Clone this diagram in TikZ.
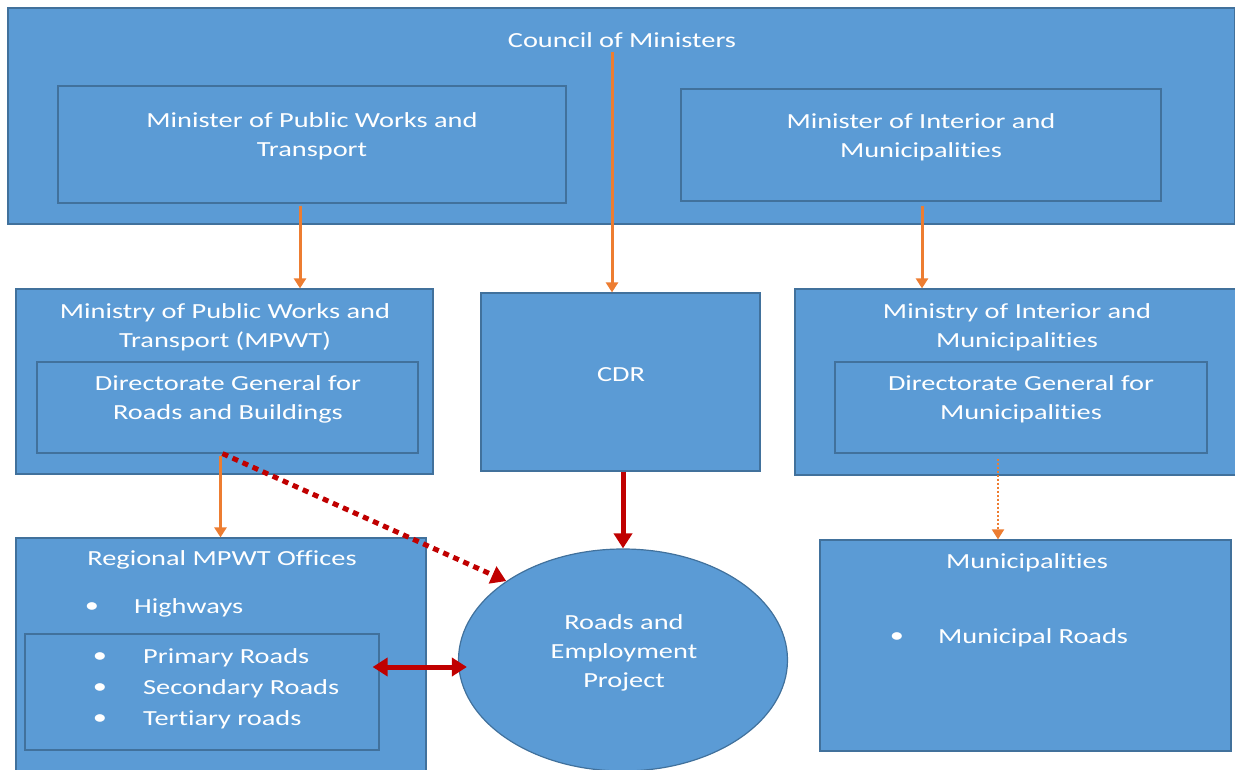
\documentclass[tikz,border=0pt]{standalone}
\usepackage{fontspec}
\setmainfont[FakeStretch=1.32,Ligatures={NoCommon}]{Carlito}
\usetikzlibrary{positioning,shapes.geometric,arrows.meta}
\definecolor{boxBlue}{HTML}{5B9BD5}
\definecolor{boxLine}{HTML}{41719C}
\definecolor{arrowOrange}{HTML}{ED7D31}
\definecolor{arrowRed}{HTML}{C00000}

\begin{document}
\begin{tikzpicture}
[x=1pt,y=-1pt,
  boxDecorate/.style={shape=rectangle,draw=boxLine,fill=boxBlue,line width=1.2pt,inner sep=0pt},
  textDecorate/.style={text=white,align=center,inner sep=0pt,font=\fontsize{21.5}{29}\selectfont},
  orangeDecorate/.style={draw=arrowOrange,line width=3pt,-{Triangle[width=12pt,length=10pt]}},
  redDecorate/.style={draw=arrowRed,line width=5pt,-{Triangle[width=18pt,length=15pt]}}]
\useasboundingbox (0,0) rectangle (1235,770);
\clip (0,0) rectangle (1235,770);
%% boxes
\foreach \nodename/\x/\y/\w/\h in {
  council/621.5/116/1227/216,
  minPWT/312/144.5/508/117,
  minInt/921/145/480/112,
  mPWT/224.5/381.5/417/185,
  cdr/620.5/382/279/178,
  mInt/1017/382/444/186,
  dgRoads/227.5/407.5/381/91,
  dgMun/1021/407.5/372/91,
  regional/221/659/410/242,
  roadsIn/202/692/354/116,
  municip/1025.5/645.5/411/211}
{
  \node (\nodename) at (\x,\y) [boxDecorate,minimum width=\w,minimum height=\h] {};
}
\node (project) at (623,660) [boxDecorate,shape=ellipse,minimum width=329,minimum height=222] {};
%% texts
\foreach \nodename/\x/\y/\txt in {
  councilText/622/40/{Council of Ministers},
  minPWTText/312/136/{Minister of Public Works and\\Transport},
  minIntText/921/137/{Minister of Interior and\\Municipalities},
  mPWTText/225/327/{Ministry of Public Works and\\Transport (MPWT)},
  dgRoadsText/228/399/{Directorate General for\\Roads and Buildings},
  cdrText/621/375/{CDR},
  mIntText/1017/327/{Ministry of Interior and\\Municipalities},
  dgMunText/1021/399/{Directorate General for\\Municipalities},
  regionalText/222/560/{Regional MPWT Offices},
  projectText/624/653/{Roads and\\Employment\\Project},
  municipText/1027/563/{Municipalities}}
{
  \node (\nodename) at (\x,\y) [textDecorate] {\txt};
}
%% bullet lists
\foreach \nodename/\bx/\tx/\y/\txt in {
  highways/92/134/608/Highways,
  primary/100/143/658/Primary Roads,
  secondary/100/143/689/Secondary Roads,
  tertiary/100/143/720/Tertiary roads,
  municipal/897/938/638/Municipal Roads}
{
  \node (\nodename Dot) at (\bx,\y) [textDecorate] {\textbullet};
  \node (\nodename) at (\tx,\y) [textDecorate,anchor=west] {\txt};
}
%% connectors
\coordinate (councilStart) at (612,52);
\draw[orangeDecorate] (councilStart) -- (councilStart |- cdr.north);
\draw[orangeDecorate] ([xshift=-12pt,yshift=-2pt]minPWT.south) -- ([xshift=-12pt]minPWT.south |- mPWT.north);
\draw[orangeDecorate] ([xshift=1pt,yshift=-4pt]minInt.south) -- ([xshift=1pt]minInt.south |- mInt.north);
\draw[orangeDecorate] ([xshift=-7pt,yshift=-2pt]dgRoads.south) -- ([xshift=-7pt]dgRoads.south |- regional.north);
\draw[orangeDecorate,line width=2pt,dash pattern=on 2pt off 2pt] ([xshift=-23pt,yshift=-5pt]dgMun.south) -- ([xshift=-23pt]dgMun.south |- municip.north);
\draw[redDecorate] ([xshift=2.5pt]cdr.south) -- (project.north);
\draw[redDecorate,dash pattern=on 6pt off 5pt] ([xshift=-5pt]dgRoads.south) -- (project.north west);
\draw[redDecorate,{Triangle[width=18pt,length=15pt]}-{Triangle[width=18pt,length=15pt]}] ([xshift=-7pt,yshift=25pt]roadsIn.east) -- ([xshift=9pt,yshift=25pt]roadsIn.east -| project.west);
\end{tikzpicture}
\end{document}
